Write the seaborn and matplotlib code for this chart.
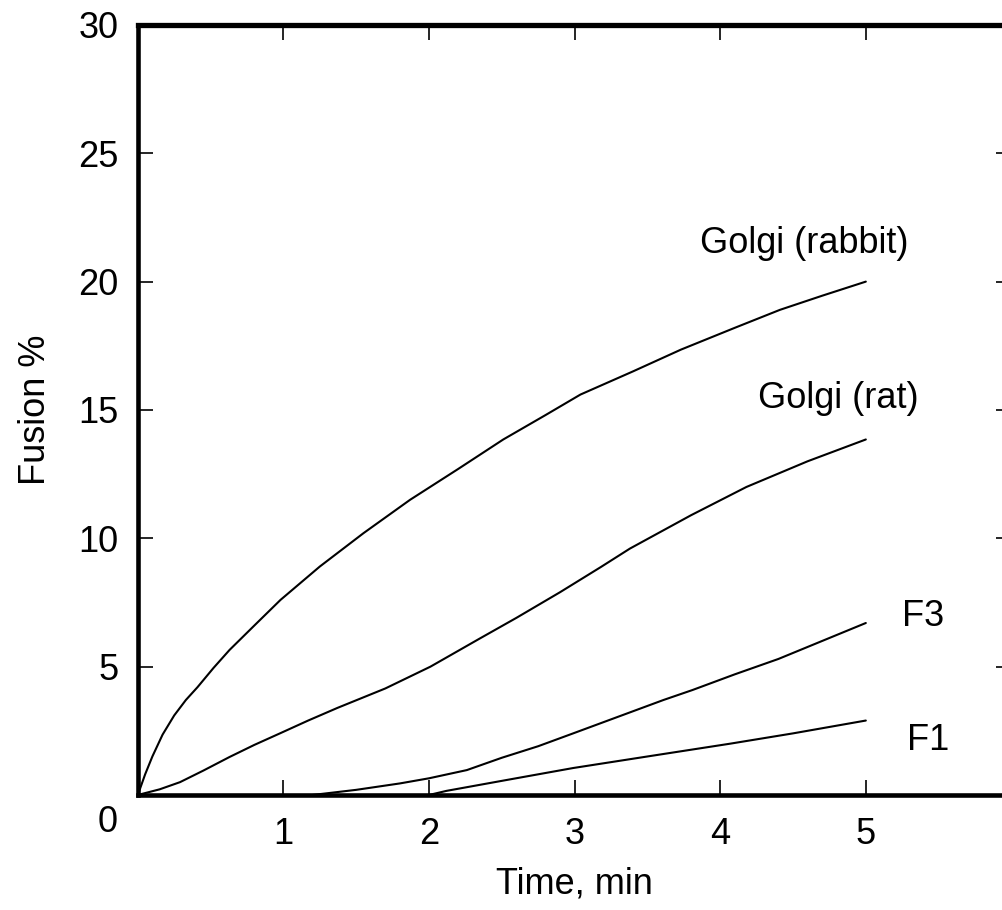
import numpy as np
import pandas as pd
import matplotlib
matplotlib.use("Agg")
import matplotlib.pyplot as plt
import seaborn as sns

# ---- data ----
rabbit_t = [0, 0.05, 0.1, 0.17, 0.25, 0.33, 0.41, 0.52, 0.63, 0.8, 0.98, 1.25, 1.55,
            1.87, 2.2, 2.51, 2.8, 3.04, 3.4, 3.73, 4.1, 4.41, 4.7, 5.0]
rabbit_y = [0, 0.8, 1.5, 2.35, 3.1, 3.7, 4.2, 4.95, 5.65, 6.6, 7.6, 8.9, 10.2,
            11.5, 12.7, 13.85, 14.8, 15.6, 16.5, 17.35, 18.2, 18.9, 19.45, 20.0]

rat_t = [0, 0.15, 0.29, 0.45, 0.63, 0.8, 0.98, 1.17, 1.37, 1.7, 2.01, 2.35, 2.6,
         2.9, 3.18, 3.38, 3.8, 4.18, 4.6, 5.0]
rat_y = [0, 0.22, 0.5, 0.95, 1.48, 1.95, 2.41, 2.9, 3.39, 4.15, 5.0, 6.1, 6.9,
         7.9, 8.88, 9.6, 10.9, 12.0, 13.0, 13.85]

f3_t = [1.2, 1.5, 1.8, 2.0, 2.26, 2.5, 2.75, 2.99, 3.3, 3.61, 3.81, 4.1, 4.4, 4.7, 5.0]
f3_y = [0, 0.2, 0.45, 0.65, 0.97, 1.45, 1.9, 2.4, 3.05, 3.7, 4.09, 4.7, 5.3, 6.0, 6.7]

f1_t = [2.0, 2.12, 2.5, 2.99, 3.5, 4.07, 4.5, 5.0]
f1_y = [0, 0.16, 0.55, 1.05, 1.5, 2.0, 2.4, 2.9]

series_names = ["Golgi (rabbit)", "Golgi (rat)", "F3", "F1"]
label_pos = {"Golgi (rabbit)": (4.575, 21.5), "Golgi (rat)": (4.81, 15.45),
             "F3": (5.39, 6.97), "F1": (5.43, 2.14)}

x_ticks = [1, 2, 3, 4, 5]
y_ticks = [5, 10, 15, 20, 25, 30]

frames = []
for name, t, y in zip(series_names, [rabbit_t, rat_t, f3_t, f1_t],
                      [rabbit_y, rat_y, f3_y, f1_y]):
    frames.append(pd.DataFrame({"Time": t, "Fusion": y, "series": name}))
df = pd.concat(frames, ignore_index=True)

sns.set_style("ticks")
plt.rcParams["font.family"] = ["Liberation Sans", "DejaVu Sans"]
plt.rcParams["text.color"] = "black"
plt.rcParams["axes.labelcolor"] = "black"
plt.rcParams["xtick.color"] = "black"
plt.rcParams["ytick.color"] = "black"

fig = plt.figure(figsize=(10.03, 9.10), dpi=100)
ax = fig.add_axes([0.1374, 0.1264, 0.871, 0.8462])

sns.lineplot(data=df, x="Time", y="Fusion", units="series", estimator=None,
             sort=False, color="black", linewidth=1.5, ax=ax, legend=False)

ax.set_xlim(0, 6)
ax.set_ylim(0, 30)
ax.set_xticks(x_ticks)
ax.set_yticks(y_ticks)
ax.set_xticklabels([str(v) for v in x_ticks])
ax.set_yticklabels([str(v) for v in y_ticks])

ax.tick_params(axis="both", direction="in", length=11, width=1.2,
               top=True, right=True, labelsize=26, colors="black",
               labelcolor="black")
ax.tick_params(axis="x", pad=16)
ax.tick_params(axis="y", pad=14)

for side in ["top", "bottom", "left", "right"]:
    ax.spines[side].set_visible(True)
    ax.spines[side].set_color("black")
ax.spines["top"].set_linewidth(3.8)
ax.spines["bottom"].set_linewidth(3.3)
ax.spines["left"].set_linewidth(3.3)
ax.spines["right"].set_linewidth(3.3)

# zero label shared by both axes at the corner
ax.annotate("0", xy=(0, 0), xycoords="data", xytext=(-20, -28),
            textcoords="offset pixels", ha="right", va="center",
            fontsize=26, color="black", annotation_clip=False)

for name in series_names:
    lx, ly = label_pos[name]
    ax.text(lx, ly, name, ha="center", va="center", fontsize=26, color="black")

ax.set_xlabel("Time, min", fontsize=26, labelpad=10, color="black")
ax.set_ylabel("Fusion %", fontsize=26, labelpad=18, color="black")

fig.savefig("out.png", dpi=100)
